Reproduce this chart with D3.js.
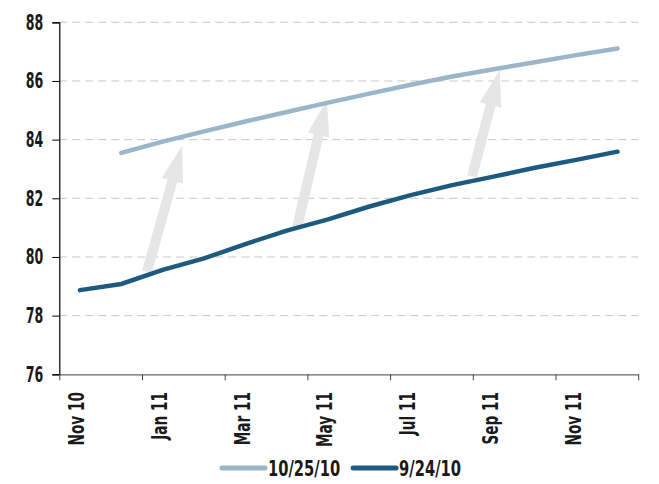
<!DOCTYPE html>
<html>
<head>
<meta charset="utf-8">
<script src="https://cdn.jsdelivr.net/npm/d3@7"></script>
<style>
  body { margin: 0; background: #fff; }
  text { font-family: "DejaVu Sans", sans-serif; font-weight: bold; fill: #1a1a1a; }
</style>
</head>
<body>
<div id="chart"></div>
<script>
var months = ["Nov 10", "Dec 10", "Jan 11", "Feb 11", "Mar 11", "Apr 11", "May 11",
              "Jun 11", "Jul 11", "Aug 11", "Sep 11", "Oct 11", "Nov 11", "Dec 11"];
// 10/25/10 curve starts in Dec 10
var oct25 = [null, 83.55, 83.93, 84.28, 84.62, 84.94, 85.26, 85.57, 85.87, 86.15, 86.40, 86.64, 86.88, 87.11];
var sep24 = [78.87, 79.08, 79.56, 79.95, 80.44, 80.90, 81.28, 81.72, 82.11, 82.45, 82.74, 83.04, 83.31, 83.59];
var yTicks = [76, 78, 80, 82, 84, 86, 88];
// shift arrows: [from month index, from value, to month index, to value]
var arrows = [[1.62, 79.49, 2.47, 83.78], [5.25, 81.02, 5.97, 85.35], [9.48, 82.74, 10.15, 86.37]];

var width = 659, height = 484;
var svg = d3.select("#chart").append("svg")
            .attr("width", width)
            .attr("height", height);

var x = d3.scaleLinear()
          .domain([0, months.length]) // month slots, points sit in the middle of a slot
          .range([59.3, 638.2]);
var y = d3.scaleLinear()
          .domain([76, 88])
          .range([374.3, 22.3]);

// no narrow font around, so squeeze DejaVu to the width of the condensed original
function squeeze(sel, k) {
    sel.each(function() {
        var w = this.getComputedTextLength();
        d3.select(this).attr("textLength", w * k).attr("lengthAdjust", "spacingAndGlyphs");
    });
}

// grid
svg.append("g").selectAll("line")
   .data(yTicks.slice(1))
   .enter().append("line")
   .attr("x1", x(0)).attr("x2", x(months.length))
   .attr("y1", d => y(d)).attr("y2", d => y(d))
   .attr("stroke", "#c8c8c8")
   .attr("stroke-dasharray", "8,5");

// arrows
function arrowPath(a) {
    var x0 = x(a[0] + 0.5), y0 = y(a[1]), x1 = x(a[2] + 0.5), y1 = y(a[3]);
    var dx = x1 - x0, dy = y1 - y0, len = Math.sqrt(dx * dx + dy * dy);
    var ux = dx / len, uy = dy / len, px = -uy, py = ux;
    var sw = 5, hw = 11, hl = 36;
    var bx = x1 - ux * hl, by = y1 - uy * hl;
    var pts = [[x0 + px * sw, y0 + py * sw], [bx + px * sw, by + py * sw], [bx + px * hw, by + py * hw],
               [x1, y1], [bx - px * hw, by - py * hw], [bx - px * sw, by - py * sw], [x0 - px * sw, y0 - py * sw]];
    return "M" + pts.map(p => p.join(",")).join("L") + "Z";
}
svg.append("g").selectAll("path")
   .data(arrows)
   .enter().append("path")
   .attr("d", arrowPath)
   .attr("fill", "#e6e6e6");

// lines
var line = d3.line()
             .defined(d => d != null)
             .x((d, i) => x(i + 0.5))
             .y(d => y(d));
svg.append("path").datum(oct25)
   .attr("d", line)
   .attr("fill", "none")
   .attr("stroke", "#9ab6c8")
   .attr("stroke-width", 4.5)
   .attr("stroke-linecap", "round");
svg.append("path").datum(sep24)
   .attr("d", line)
   .attr("fill", "none")
   .attr("stroke", "#1d5a80")
   .attr("stroke-width", 4.5)
   .attr("stroke-linecap", "round");

// y axis
var yAxis = d3.axisLeft(y).tickValues(yTicks).tickSize(7).tickPadding(9);
var gy = svg.append("g").attr("transform", "translate(" + x(0) + ",0)").call(yAxis);
gy.select(".domain").attr("stroke", "#000").attr("stroke-width", 1.2);
gy.selectAll(".tick line").attr("stroke", "#000");
gy.selectAll("text").attr("font-size", "21px")
  .style("font-family", "'DejaVu Sans', sans-serif")
  .style("font-weight", "bold")
  .attr("fill", "#1a1a1a")
  .call(squeeze, 0.6);

// x axis
var xAxis = d3.axisBottom(x)
              .tickValues(d3.range(0, months.length + 1, 2))
              .tickSize(6)
              .tickSizeOuter(0)
              .tickFormat("");
var gx = svg.append("g").attr("transform", "translate(0," + y(76) + ")").call(xAxis);
gx.select(".domain").attr("stroke", "#666").attr("stroke-width", 1.2);
gx.selectAll(".tick line").attr("stroke", "#444");

svg.append("g").selectAll("text")
   .data(months.filter((m, i) => i % 2 == 0))
   .enter().append("text")
   .attr("transform", (d, i) => "translate(" + (x(i * 2 + 0.5) - 3) + ",392) rotate(-90)")
   .attr("text-anchor", "end")
   .attr("dy", "0.35em")
   .attr("font-size", "21px")
   .text(d => d)
   .call(squeeze, 0.65);

// legend
var legend = [["10/25/10", "#9ab6c8"], ["9/24/10", "#1d5a80"]];
var lg = svg.append("g");
var lx = 222;
legend.forEach(function(l) {
    lg.append("line")
      .attr("x1", lx).attr("x2", lx + 43)
      .attr("y1", 468).attr("y2", 468)
      .attr("stroke", l[1]).attr("stroke-width", 5)
      .attr("stroke-linecap", "round");
    var t = lg.append("text")
      .attr("x", lx + 46).attr("y", 476)
      .attr("font-size", "21px")
      .text(l[0]);
    var w = t.node().getComputedTextLength() * 0.7;
    t.attr("textLength", w).attr("lengthAdjust", "spacingAndGlyphs");
    lx += 46 + w + 13;
});
</script>
</body>
</html>
